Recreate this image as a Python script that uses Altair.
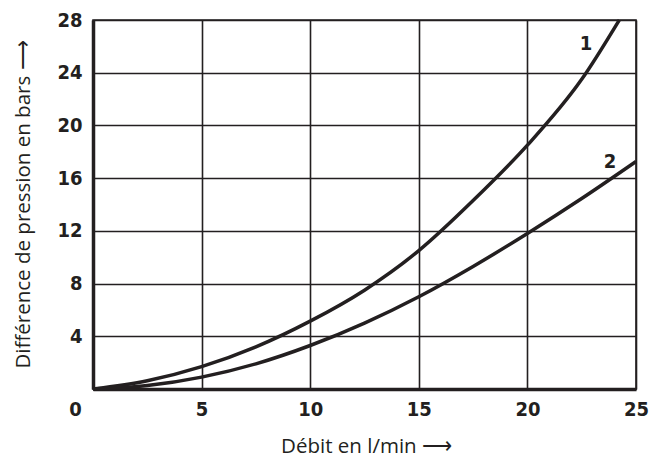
import altair as alt
import pandas as pd

# Curve 1
x1 = [0, 2.5, 5, 7.5, 10, 12.5, 15, 17.5, 20, 22.5, 24.23]
y1 = [0, 0.63, 1.7, 3.2, 5.15, 7.5, 10.5, 14.3, 18.5, 23.5, 28]
# Curve 2
x2 = [0, 2.5, 5, 7.5, 10, 12.5, 15, 17.5, 20, 22.5, 25]
y2 = [0, 0.26, 0.9, 1.91, 3.3, 5.0, 7.0, 9.3, 11.8, 14.45, 17.26]

labels = ["1", "2"]
label_x = [22.7, 23.8]
label_y = [26.2, 17.2]

x_ticks = [0, 5, 10, 15, 20, 25]
y_ticks = [0, 4, 8, 12, 16, 20, 24, 28]

INK = "#231f20"
TICK_FONT = "Liberation Sans Narrow, DejaVu Sans Condensed, sans-serif"
TITLE_FONT = "Open Sans, Liberation Sans, sans-serif"

df = pd.concat([
    pd.DataFrame({"x": x1, "y": y1, "s": "1"}),
    pd.DataFrame({"x": x2, "y": y2, "s": "2"}),
])
lab = pd.DataFrame({"x": label_x, "y": label_y, "t": labels})

xscale = alt.Scale(domain=[0, 25], nice=False, zero=False)
yscale = alt.Scale(domain=[0, 28], nice=False, zero=False)

xaxis = alt.Axis(
    values=x_ticks, grid=True, gridColor=INK, gridWidth=1.6, gridOpacity=1,
    ticks=False, domainColor=INK, domainWidth=3.5,
    labelFont=TICK_FONT, labelFontWeight="bold", labelFontSize=20, labelColor=INK,
    labelPadding=10, labelFlush=False,
    labelOffset={"condition": {"test": "datum.value == 0", "value": -18}, "value": 0},
    title="Débit en l/min ⟶", titleFont=TITLE_FONT, titleFontWeight="normal",
    titleFontSize=20.5, titleColor=INK, titleX=273, titleY=57, titleBaseline="middle",
)
yaxis = alt.Axis(
    values=y_ticks, grid=True, gridColor=INK, gridWidth=1.6, gridOpacity=1,
    ticks=False, domainColor=INK, domainWidth=3.5,
    labelFont=TICK_FONT, labelFontWeight="bold", labelFontSize=20, labelColor=INK,
    labelPadding=11, labelExpr="datum.value == 0 ? '' : datum.label",
    labelBaseline="middle",
    title="Différence de pression en bars ⟶", titleFont=TITLE_FONT,
    titleFontWeight="normal", titleFontSize=20.5, titleColor=INK,
    titleX=-70, titleY=184, titleAngle=-90, titleBaseline="middle", titleAlign="center",
)

lines = alt.Chart(df).mark_line(color=INK, strokeWidth=3.5, interpolate="monotone").encode(
    x=alt.X("x:Q", scale=xscale, axis=xaxis),
    y=alt.Y("y:Q", scale=yscale, axis=yaxis),
    detail="s:N",
)

texts = alt.Chart(lab).mark_text(
    font=TICK_FONT, fontWeight="bold", fontSize=20, color=INK,
    align="center", baseline="middle",
).encode(x=alt.X("x:Q", scale=xscale), y=alt.Y("y:Q", scale=yscale), text="t:N")

chart = (lines + texts).properties(
    width=543, height=369,
    autosize=alt.AutoSizeParams(type="none"),
    padding={"left": 85, "top": 12, "right": 16, "bottom": 74},
).configure_view(stroke=INK, strokeWidth=1.6)

chart.save("out.html", embed_options={"renderer": "svg", "actions": False})
